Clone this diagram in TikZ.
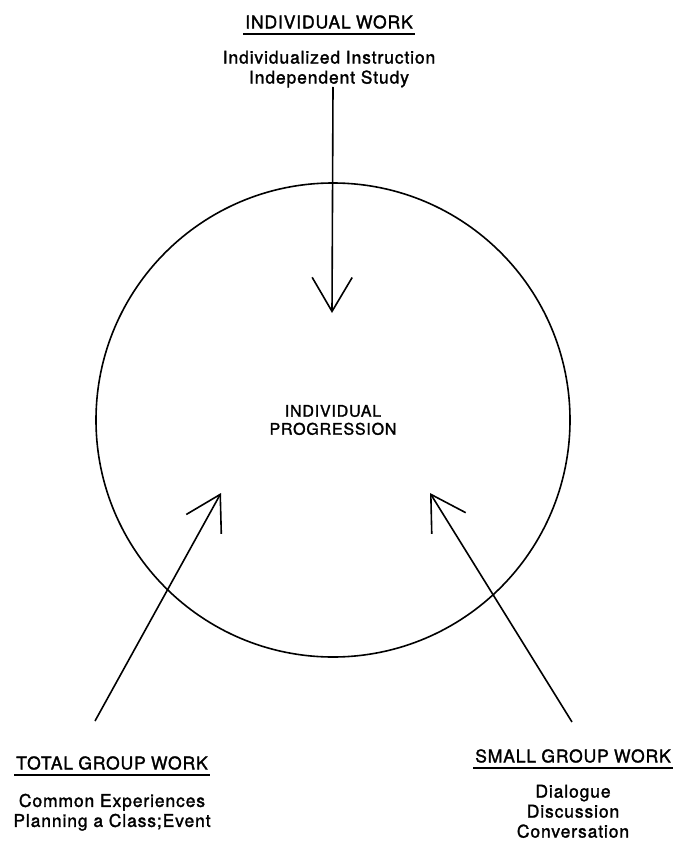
\documentclass[tikz,border=0pt]{standalone}
\usepackage{fontspec}
\setmainfont{TeX Gyre Heros}
\newfontfamily\scanfont[LetterSpace=5,FakeBold=1.6]{TeX Gyre Heros}
\usepackage{tikz}
\usetikzlibrary{arrows.meta, positioning}

\begin{document}
\begin{tikzpicture}[
    x=1pt, y=-1pt,
    line width=1.6pt,
    heading/.style={
        font=\scanfont\fontsize{17.5}{20}\selectfont,
        inner xsep=1pt, inner ysep=4.5pt
    },
    sublist/.style={
        font=\scanfont\fontsize{17.5}{20}\selectfont,
        align=center, inner sep=2pt
    },
    ring/.style={
        circle, draw, line width=1.6pt, minimum size=474pt,
        align=center, font=\scanfont\fontsize{16}{18}\selectfont
    },
    uline/.style={line width=1.4pt},
    flow/.style={-{Straight Barb[length=34pt,width=40pt]}, line width=1.6pt}
]
\useasboundingbox (0,0) rectangle (677,845);

% Nodes
\node[ring] (prog) at (333,420) {INDIVIDUAL\\PROGRESSION};

\node[heading] (indw) at (329,22) {INDIVIDUAL\hspace{0.3em}WORK};
\node[sublist, below=14pt of indw] (indlist) {Individualized Instruction\\Independent Study};

\node[heading] (totw) at (112,763) {TOTAL\hspace{0.3em}GROUP\hspace{0.3em}WORK};
\node[sublist, below=16pt of totw] (totlist) {Common Experiences\\Planning a Class;Event};

\node[heading] (smw) at (573,756) {SMALL\hspace{0.3em}GROUP\hspace{0.3em}WORK};
\node[sublist, below=14pt of smw] (smlist) {Dialogue\\Discussion\\Conversation};

\coordinate (indtail) at (333,87);
\coordinate (indtip) at (332,313);
\coordinate (tottail) at (95,721);
\coordinate (tottip) at (221,493);
\coordinate (smtail) at (572,722);
\coordinate (smtip) at (430,493);

% Paths
\draw[uline] (indw.south west) -- (indw.south east);
\draw[uline] (totw.south west) -- (totw.south east);
\draw[uline] (smw.south west) -- (smw.south east);

\draw[flow] (indtail) -- (indtip);
\draw[flow] (tottail) -- (tottip);
\draw[flow] (smtail) -- (smtip);

\end{tikzpicture}
\end{document}
